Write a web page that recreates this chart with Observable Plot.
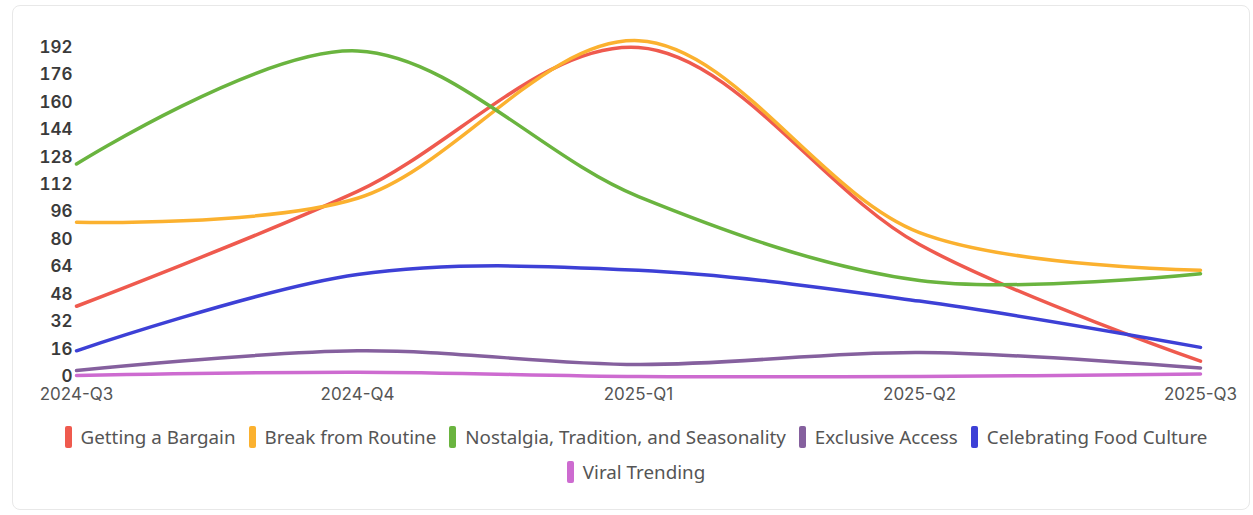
<!DOCTYPE html>
<html>
<head>
<meta charset="utf-8">
<script src="https://cdn.jsdelivr.net/npm/d3@7"></script>
<script src="https://cdn.jsdelivr.net/npm/@observablehq/plot@0.6"></script>
<style>
  html, body { margin: 0; padding: 0; background: #fff; }
  body { width: 1253px; height: 515px; position: relative; overflow: hidden; font-family: "Open Sans", sans-serif; }
  #card { position: absolute; left: 12px; top: 5px; width: 1238px; height: 505px; border: 1px solid #e8e8e8; border-radius: 8px; box-sizing: border-box; }
  #chart { position: absolute; left: 0; top: 0; }
  #legend { position: absolute; left: 36px; width: 1200px; top: 424px; display: flex; flex-wrap: wrap; justify-content: center; row-gap: 10px; column-gap: 13px; font-family: "Noto Sans", sans-serif; font-size: 18.8px; color: #555; }
  .item { display: flex; align-items: center; height: 25px; }
  .sw { width: 7px; height: 22px; border-radius: 2px; margin-right: 9px; }
</style>
</head>
<body>
<div id="card"></div>
<div id="chart"></div>
<div id="legend"></div>
<script>
const quarters = ["2024-Q3", "2024-Q4", "2025-Q1", "2025-Q2", "2025-Q3"];
const seriesNames = ["Getting a Bargain", "Break from Routine", "Nostalgia, Tradition, and Seasonality", "Exclusive Access", "Celebrating Food Culture", "Viral Trending"];
const colors = ["#ef5a4e", "#fbb12f", "#6ab43f", "#85609e", "#3d40d6", "#cd6bd0"];
const gettingABargain = [41, 108, 192, 77, 9];
const breakFromRoutine = [90, 104, 196, 84, 62];
const nostalgia = [124, 190, 105, 56, 60];
const exclusiveAccess = [3.5, 15, 7, 14, 5];
const foodCulture = [15, 59.5, 62, 44, 17];
const viralTrending = [0.6, 2.5, 0, 0, 1.5];
const yTicks = [0, 16, 32, 48, 64, 80, 96, 112, 128, 144, 160, 176, 192];

const allValues = [gettingABargain, breakFromRoutine, nostalgia, exclusiveAccess, foodCulture, viralTrending];
const data = [];
seriesNames.forEach((s, i) => quarters.forEach((q, j) => data.push({series: s, quarter: q, value: allValues[i][j]})));

const plot = Plot.plot({
  width: 1253,
  height: 410,
  marginLeft: 76,
  marginRight: 53,
  marginTop: 47,
  marginBottom: 34,
  style: { fontFamily: "Inter, sans-serif", fontSize: "17px", background: "transparent" },
  x: { type: "point", domain: quarters, padding: 0, label: null },
  y: { domain: [0, 192], label: null },
  color: { domain: seriesNames, range: colors },
  marks: [
    Plot.ruleY(yTicks, { stroke: "#dcdcdc", strokeDasharray: "5,5", strokeWidth: 1, x1: quarters[0], x2: quarters[4] }),
    Plot.axisY({ ticks: yTicks, tickSize: 0, tickPadding: 4, fill: "#3a3a3a", fontWeight: 600, fontSize: 17 }),
    Plot.axisX({ tickSize: 0, tickPadding: 11, fill: "#555", fontSize: 17 }),
    Plot.lineY(data, { x: "quarter", y: "value", z: "series", stroke: "series", strokeWidth: 3.5, curve: "catmull-rom" })
  ]
});
document.getElementById("chart").appendChild(plot);

const legend = document.getElementById("legend");
seriesNames.forEach((s, i) => {
  const it = document.createElement("div");
  it.className = "item";
  const sw = document.createElement("span");
  sw.className = "sw";
  sw.style.background = colors[i];
  const t = document.createElement("span");
  t.textContent = s;
  it.appendChild(sw); it.appendChild(t);
  legend.appendChild(it);
});
</script>
</body>
</html>
